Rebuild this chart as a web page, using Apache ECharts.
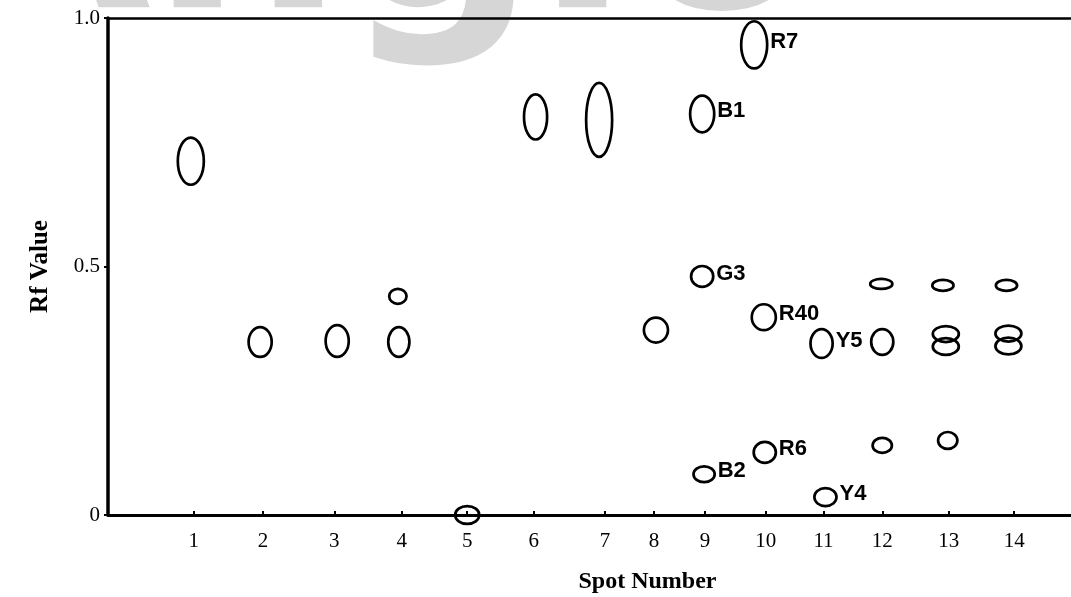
<!DOCTYPE html>
<html>
<head>
<meta charset="utf-8">
<script src="https://cdn.jsdelivr.net/npm/echarts@6/dist/echarts.min.js"></script>
<style>
  html, body { margin: 0; padding: 0; background: #fff; }
  #main { width: 1071px; height: 597px; }
</style>
</head>
<body>
<div id="main"></div>
<script>
// spot numbers and where they sit along the plate (plate units, 0..100)
var laneLabels = ['1', '2', '3', '4', '5', '6', '7', '8', '9', '10', '11', '12', '13', '14'];
var lanePos = [8.9, 16.1, 23.5, 30.5, 37.3, 44.2, 51.6, 56.7, 62.0, 68.3, 74.3, 80.4, 87.3, 94.1];
var rfTicks = [0, 0.5, 1.0];

// spots: position on plate, Rf, spot width (plate units), spot height (Rf), dye name
var spotX  = [8.6, 15.8, 23.8, 30.1, 30.2, 37.3, 44.4, 51.0, 56.9,
              61.7, 61.7, 61.9, 67.1, 68.1, 68.2, 74.1, 74.5,
              80.3, 80.4, 80.4, 86.7, 87.0, 87.0, 87.2, 93.3, 93.5, 93.5];
var spotRf = [0.712, 0.348, 0.350, 0.440, 0.348, 0.0, 0.801, 0.795, 0.372,
              0.807, 0.480, 0.082, 0.946, 0.398, 0.126, 0.345, 0.036,
              0.465, 0.348, 0.140, 0.462, 0.364, 0.339, 0.150, 0.462, 0.365, 0.340];
var spotW  = [2.7, 2.4, 2.4, 1.8, 2.2, 2.5, 2.4, 2.7, 2.5,
              2.5, 2.3, 2.2, 2.7, 2.5, 2.3, 2.3, 2.3,
              2.3, 2.3, 2.0, 2.2, 2.7, 2.7, 2.0, 2.2, 2.7, 2.7];
var spotH  = [0.095, 0.060, 0.064, 0.030, 0.060, 0.036, 0.091, 0.149, 0.050,
              0.074, 0.042, 0.032, 0.095, 0.052, 0.042, 0.058, 0.036,
              0.020, 0.052, 0.030, 0.022, 0.032, 0.034, 0.034, 0.022, 0.032, 0.034];
var spotName = ['', '', '', '', '', '', '', '', '',
                'B1', 'G3', 'B2', 'R7', 'R40', 'R6', 'Y5', 'Y4',
                '', '', '', '', '', '', '', '', '', ''];

var spots = [];
for (var i = 0; i < spotX.length; i++) {
    spots.push([spotX[i], spotRf[i], spotW[i], spotH[i], spotName[i]]);
}

var myChart = echarts.init(document.getElementById('main'));

var option = {
    backgroundColor: '#fff',
    animation: false,
    graphic: [{
        type: 'text',
        left: -58,
        top: -198,
        z: -10,
        silent: true,
        style: {
            text: 'Angio',
            fill: '#d6d6d6',
            font: 'bold 270px "DejaVu Sans", sans-serif'
        }
    }],
    grid: { left: 108, right: 0, top: 18, bottom: 82, containLabel: false, outerBoundsMode: 'none' },
    xAxis: [{
        type: 'value',
        min: 0,
        max: 100,
        name: 'Spot Number',
        nameLocation: 'middle',
        nameGap: 55,
        nameTextStyle: {
            fontFamily: '"Liberation Serif", "Times New Roman", serif',
            fontWeight: 'bold',
            fontSize: 24,
            color: '#000',
            padding: [0, 0, 0, 116]
        },
        axisLine: { lineStyle: { color: '#000', width: 3 } },
        axisTick: { inside: true, length: 4, customValues: lanePos, lineStyle: { color: '#000', width: 2 } },
        axisLabel: {
            customValues: lanePos,
            margin: 16,
            fontFamily: '"Liberation Serif", "Times New Roman", serif',
            fontSize: 21,
            color: '#000',
            formatter: function (v) {
                var k = lanePos.indexOf(v);
                return k >= 0 ? laneLabels[k] : '';
            }
        },
        splitLine: { show: false }
    }, {
        type: 'value',
        position: 'top',
        min: 0,
        max: 100,
        axisLine: { lineStyle: { color: '#000', width: 2.5 } },
        axisTick: { show: false },
        axisLabel: { show: false },
        splitLine: { show: false }
    }],
    yAxis: {
        type: 'value',
        min: 0,
        max: 1,
        interval: 0.5,
        name: 'Rf Value',
        nameLocation: 'middle',
        nameGap: 55,
        nameTextStyle: {
            fontFamily: '"Liberation Serif", "Times New Roman", serif',
            fontWeight: 'bold',
            fontSize: 25,
            color: '#000'
        },
        axisLine: { show: true, lineStyle: { color: '#000', width: 3.5 } },
        axisTick: { show: true, inside: false, length: 4, lineStyle: { color: '#000', width: 2 } },
        axisLabel: {
            margin: 8,
            fontFamily: '"Liberation Serif", "Times New Roman", serif',
            fontSize: 21,
            color: '#000',
            formatter: function (v) {
                return v === 0 ? '0' : v.toFixed(1);
            }
        },
        splitLine: { show: false }
    },
    series: [{
        type: 'custom',
        xAxisIndex: 0,
        data: spots,
        renderItem: function (params, api) {
            var c = api.coord([api.value(0), api.value(1)]);
            var s = api.size([api.value(2), api.value(3)]);
            var rx = s[0] / 2, ry = s[1] / 2;
            var name = spotName[params.dataIndex];
            var children = [{
                type: 'ellipse',
                shape: { cx: c[0], cy: c[1], rx: rx, ry: ry },
                style: { fill: 'none', stroke: '#000', lineWidth: 2.7 }
            }];
            if (name) {
                children.push({
                    type: 'text',
                    x: c[0] + rx + 3,
                    y: c[1] - 3,
                    style: {
                        text: name,
                        fill: '#000',
                        font: 'bold 22px "Liberation Sans", Arial, sans-serif',
                        verticalAlign: 'middle',
                        align: 'left'
                    }
                });
            }
            return { type: 'group', children: children };
        }
    }]
};

myChart.setOption(option);
</script>
</body>
</html>
